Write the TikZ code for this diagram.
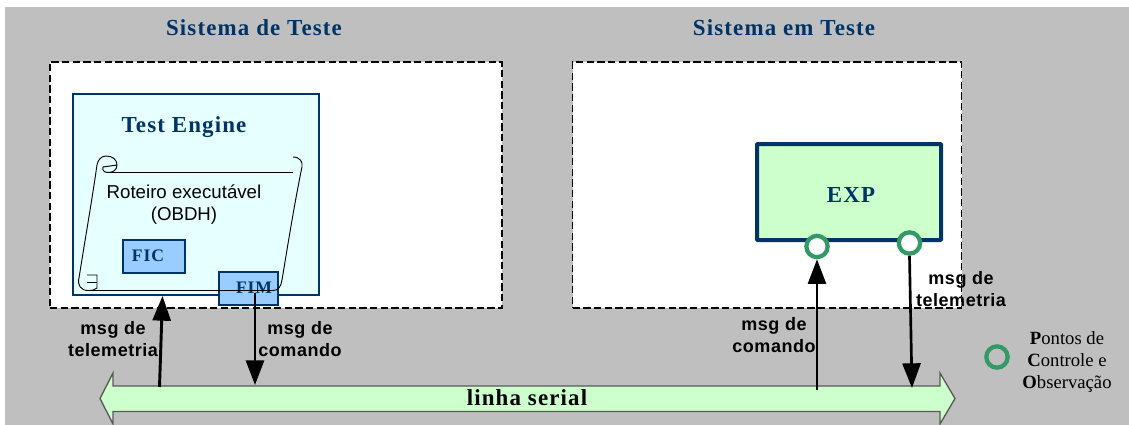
\documentclass[tikz,border=0pt]{standalone}
\usepackage{fontspec}
\usepackage{xcolor}
\usetikzlibrary{arrows.meta}
\setmainfont{Liberation Serif}
\setsansfont{Liberation Sans}
\newfontfamily\spacedserif[LetterSpace=5]{Liberation Serif}
\newfontfamily\spacedsans[LetterSpace=3]{Liberation Sans}
\definecolor{navy}{HTML}{003366}
\definecolor{panelgray}{HTML}{BFBFBF}
\definecolor{palegreen}{HTML}{CCFFCC}
\definecolor{palecyan}{HTML}{E6FFFF}
\definecolor{fiblue}{HTML}{99CCFF}
\definecolor{pcogreen}{HTML}{339966}
\tikzstyle{sysbox}=[draw, fill=white, line width=1.1pt, dash pattern=on 5.5pt off 2.5pt, minimum width=339pt, minimum height=184.5pt, inner sep=0pt]
\tikzstyle{fibox}=[draw=navy, fill=fiblue, line width=1.1pt, minimum width=46.5pt, minimum height=24.5pt, inner sep=0pt]
\tikzstyle{fitxt}=[text=navy, font=\spacedserif\fontsize{13.2pt}{15pt}\selectfont\bfseries, inner sep=0pt]
\tikzstyle{title}=[text=navy, font=\spacedserif\fontsize{17.2pt}{20pt}\selectfont\bfseries, inner sep=0pt]
\tikzstyle{msg}=[font=\spacedsans\fontsize{13.5pt}{16.5pt}\selectfont\bfseries, align=center, inner sep=0pt]
\tikzstyle{pco}=[draw=pcogreen, line width=3.2pt, shape=circle, minimum size=16pt, inner sep=0pt]
\tikzstyle{wire}=[line width=2.2pt, -{Triangle[length=18.5pt, width=13.5pt]}]
\tikzset{>=stealth}
\begin{document}
\begin{tikzpicture}[x=0.75pt, y=-0.75pt]
\useasboundingbox (0,0) rectangle (1129,425);
\fill[panelgray] (5,7) rectangle (1129,425);
% the two systems
\node[title] (tTeste) at (254,28) {Sistema de Teste};
\node[title] (tEmTeste) at (784,28) {Sistema em Teste};
\node[sysbox] (sysT) at (276,185) {};
\node[sysbox, minimum width=291.75pt] (sysE) at (767,185) {};
% the test engine
\node[draw=navy, fill=palecyan, line width=1.1pt, minimum width=184.5pt, minimum height=150.75pt] (engine) at (196,194.5) {};
\node[title] (tEngine) at (184,127) {Test Engine};
\node[fibox] (FIC) at (154,256.5) {};
\node[fibox, minimum width=44pt] (FIM) at (248.5,288.5) {};
\node[fitxt] (tFIC) at (148,256) {FIC};
\node[fitxt] (tFIM) at (254,288) {FIM};
% the scroll
\draw[line width=0.7pt] (108,172.5) -- (293,172.5);
\draw[line width=0.7pt] (293,157) .. controls (300,157) and (303,162) .. (302,167)
  .. controls (295,200) and (287,250) .. (282,280) .. controls (281,287) and (278,290.5) .. (273,290.5)
  -- (88,290.5) .. controls (81,290.5) and (77,285) .. (79,278)
  .. controls (85,240) and (92,200) .. (97,165) .. controls (98,160) and (101,156) .. (106,156)
  .. controls (113,156) and (117,160) .. (117,165) .. controls (117,170) and (113,172.5) .. (108,172.5)
  .. controls (104,172.5) and (102,170) .. (103,167) -- (117,165);
\draw[line width=0.7pt] (87,275) -- (97,275) -- (97,288) .. controls (95,290) and (92,290.5) .. (88,290.5);
\draw[line width=0.7pt] (87,282) -- (97,282);
\node[font=\sffamily\fontsize{14pt}{16.5pt}\selectfont, align=center, inner sep=0pt] (tRoteiro) at (184,205) {Roteiro executável\\(OBDH)};
% the experiment
\node[draw=navy, fill=palegreen, line width=3pt, minimum width=138pt, minimum height=72pt, rounded corners=0.5pt] (EXP) at (849,192) {};
\node[title] (tEXP) at (851,195) {EXP};
\node[pco, fill=white] (pcoA) at (817,246.5) {};
\node[pco, fill=white] (pcoB) at (909.5,243) {};
% the serial line
\draw[draw=black!65, fill=palegreen, line width=1pt] (100,398.5) -- (113,373) -- (113,386) -- (940,386) -- (940,373) -- (955,398.5) -- (940,424) -- (940,411.5) -- (113,411.5) -- (113,424) -- cycle;
\node[title, text=black] (bus) at (527,398) {linha serial};
% the free ends of the messages
\coordinate (busA) at (159.5,387);
\coordinate (busB) at (255,385);
\coordinate (busC) at (817,390);
\coordinate (busD) at (912,388);
\coordinate (engT) at (162.5,296);
\coordinate (fimB) at (255,293);
\draw[wire] (busA) -- (engT);
\draw[wire] (fimB) -- (busB);
\draw[wire, line width=2pt] (busC) -- (pcoA.south);
\draw[wire, line width=2pt] (pcoB.south) -- (busD);
\node[msg] (mTelA) at (113,339) {msg de\\telemetria};
\node[msg] (mComA) at (300,339) {msg de\\comando};
\node[msg] (mComB) at (774,335) {msg de\\comando};
\node[msg] (mTelB) at (961,289) {msg de\\telemetria};
% the key
\node[pco] (pcoK) at (997,357) {};
\node[font=\fontsize{14pt}{16.5pt}\selectfont, align=center, inner sep=0pt] (tKey) at (1067,362) {\textbf{P}ontos de\\\textbf{C}ontrole e\\\textbf{O}bservação};
\end{tikzpicture}
\end{document}
